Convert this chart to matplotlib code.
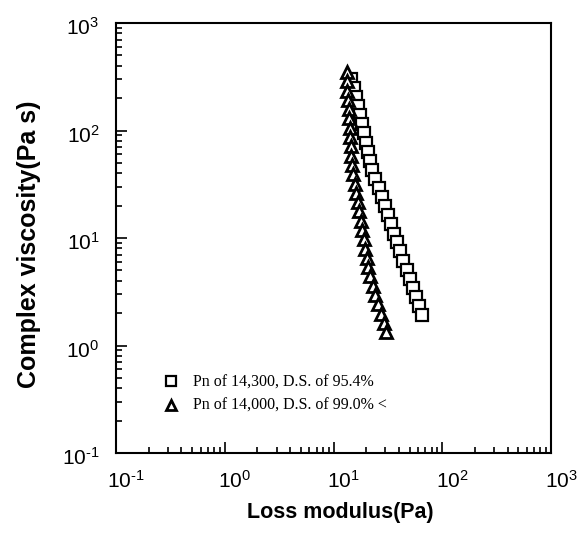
import matplotlib
matplotlib.use("Agg")
import matplotlib.pyplot as plt
from matplotlib.lines import Line2D
from matplotlib.transforms import ScaledTranslation

plt.rcParams['mathtext.fontset'] = 'custom'
plt.rcParams['mathtext.rm'] = 'Liberation Sans'
plt.rcParams['mathtext.it'] = 'Liberation Sans'
plt.rcParams['font.family'] = ['Liberation Sans', 'DejaVu Sans']
plt.rcParams['axes.unicode_minus'] = False

# Series 1: Pn of 14,300, D.S. of 95.4%  (squares)
sq_loss = [14.6, 15.3, 16.0, 16.7, 17.4, 18.2, 19.0, 19.8, 20.7, 21.7,
           22.8, 24.3, 26.0, 27.7, 29.6, 31.7, 33.8, 36.1, 38.6, 41.2,
           44.0, 47.0, 50.1, 53.5, 57.3, 61.2, 65.6]
sq_visc = [301, 248, 204, 168, 138, 114, 93.8, 77.2, 63.6, 52.4,
           43.1, 35.5, 29.2, 24.1, 19.8, 16.3, 13.4, 11.0, 9.10, 7.49,
           6.16, 5.07, 4.17, 3.44, 2.83, 2.33, 1.92]

# Series 2: Pn of 14,000, D.S. of 99.0% <  (triangles)
tr_loss = [13.2, 13.3, 13.4, 13.6, 13.8, 13.9, 14.1, 14.2, 14.4, 14.5,
           14.7, 15.2, 15.7, 16.2, 16.7, 17.3, 17.8, 18.4, 19.0, 19.6,
           20.2, 20.9, 21.6, 22.9, 24.3, 25.8, 27.3, 28.9, 30.6]
tr_visc = [350, 287, 235, 193, 158, 130, 106, 87.0, 71.3, 58.4,
           47.9, 39.2, 32.1, 26.3, 21.6, 17.7, 14.5, 11.9, 9.75, 7.98,
           6.54, 5.36, 4.39, 3.60, 2.95, 2.42, 1.98, 1.63, 1.34]

labels = ["Pn of 14,300, D.S. of 95.4%", "Pn of 14,000, D.S. of 99.0% <"]
xlabel = "Loss modulus(Pa)"
ylabel = "Complex viscosity(Pa s)"
tick_vals = [0.1, 1, 10, 100, 1000]
tick_labels = [r"$10^{\text{-}1}$", r"$10^{0}$", r"$10^{1}$", r"$10^{2}$", r"$10^{3}$"]

fig = plt.figure(figsize=(5.84, 5.38), dpi=100)
ax = fig.add_axes([116/584, 85/538, 435/584, 430/538])

ax.plot(sq_loss, sq_visc, linestyle='none', marker='s', markersize=8.5,
        markerfacecolor='white', markeredgecolor='black', markeredgewidth=1.6)
ax.plot(tr_loss, tr_visc, linestyle='none', marker='^', markersize=8.5,
        markerfacecolor='white', markeredgecolor='black', markeredgewidth=2.0)

ax.set_xscale('log')
ax.set_yscale('log')
ax.set_xlim(0.1, 1000)
ax.set_ylim(0.1, 1000)
ax.set_xticks(tick_vals)
ax.set_xticklabels(tick_labels)
ax.set_yticks(tick_vals)
ax.set_yticklabels(tick_labels)

for s in ax.spines.values():
    s.set_linewidth(1.5)

ax.tick_params(which='both', direction='in', top=False, right=False,
               width=1.2, labelsize=15)
ax.tick_params(axis='x', which='major', pad=12)
ax.tick_params(axis='y', which='major', pad=12)
ax.tick_params(which='major', length=8)
ax.tick_params(which='minor', length=4)

dx = ScaledTranslation(10/100, 0, fig.dpi_scale_trans)
for lab in ax.get_xticklabels():
    lab.set_transform(lab.get_transform() + dx)
dy = ScaledTranslation(0, -3/100, fig.dpi_scale_trans)
for lab in ax.get_yticklabels():
    lab.set_transform(lab.get_transform() + dy)

ax.set_xlabel(xlabel, fontsize=15.5, fontweight='bold')
ax.xaxis.set_label_coords(0.515, -0.115)
ax.set_ylabel(ylabel, fontsize=18, fontweight='bold')
ax.yaxis.set_label_coords(-0.172, 0.485)

handles = [
    Line2D([], [], linestyle='none', marker='s', markersize=6.5,
           markerfacecolor='white', markeredgecolor='black', markeredgewidth=1.6),
    Line2D([], [], linestyle='none', marker='^', markersize=6.5,
           markerfacecolor='white', markeredgecolor='black', markeredgewidth=2.0),
]
leg = ax.legend(handles, labels, loc='upper left',
                bbox_to_anchor=(0.075, 0.215), frameon=False,
                handlelength=1.0, handletextpad=0.9, labelspacing=0.45,
                prop={'family': 'Liberation Serif', 'size': 11.5})

fig.savefig("out.png", dpi=100)
